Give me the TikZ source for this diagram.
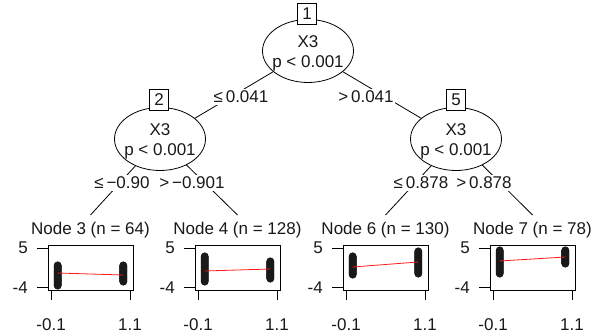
\documentclass[tikz,border=0pt]{standalone}
\usepackage{fontspec}
\setmainfont{Liberation Sans}
\usetikzlibrary{shapes.geometric,backgrounds}

% One terminal panel: #1 name, #2 left edge of plot box, #3 title,
% #4/#5 extent of the left point column, #6/#7 extent of the right column,
% #8/#9 end heights of the fitted line
\newcommand{\bivpanel}[9]{%
  \node[paneltitle] (#1title) at ({#2+42.5},230) {#3};
  \foreach \k in {0,...,32}{
    \draw[ptmark] ({#2+9.7},{#4+3.3+(#5-#4-6.6)*\k/32}) circle (3.3);
  }
  \foreach \k in {0,...,32}{
    \draw[ptmark] ({#2+75.3},{#6+3.3+(#7-#6-6.6)*\k/32}) circle (3.3);
  }
  \draw[fitline] ({#2+9.7},#8) -- ({#2+75.3},#9);
  \draw[axisline] (#2,245) rectangle ({#2+85},290);
  \draw[axisline] ({#2+3.1},290.4) -- ({#2+81.9},290.4);
  \draw[axisline] (#2,248) -- ({#2-11},248);
  \draw[axisline] (#2,287) -- ({#2-11},287);
  \node[anchor=east] (#1yhi) at ({#2-20},248) {5};
  \node[anchor=east] (#1ylo) at ({#2-20},288) {-4};
  \draw[axisline] ({#2+3.1},290) -- ({#2+3.1},300);
  \draw[axisline] ({#2+81.9},290) -- ({#2+81.9},300);
  \node (#1xlo) at ({#2+3.1},325) {-0.1};
  \node (#1xhi) at ({#2+81.9},325) {1.1};
}

\begin{document}
\begin{tikzpicture}[x=1pt,y=-1pt,
  every node/.style={font=\fontsize{17}{20}\selectfont, inner sep=0pt, text=black!90},
  splitnode/.style={ellipse, draw, fill=white, minimum width=91pt, minimum height=63pt, line width=0.8pt},
  idbox/.style={draw, fill=white, minimum width=19pt, minimum height=21pt, line width=0.8pt},
  edgeline/.style={line width=0.8pt},
  elab/.style={fill=white, inner sep=1.5pt},
  paneltitle/.style={fill=white, inner sep=1pt},
  axisline/.style={line width=0.8pt},
  ptmark/.style={line width=1.1pt, draw=black!90},
  fitline/.style={line width=0.8pt, draw=red!90}
]
\useasboundingbox (0,0) rectangle (596,336);

% inner split nodes
\node[splitnode] (n1) at (308,51) {};
\node (n1var) at (308,42) {X3};
\node (n1p) at (308,63) {p < 0.001};
\node[idbox] (n1id) at (307,14) {1};

\node[splitnode] (n2) at (160,139) {};
\node (n2var) at (160,130) {X3};
\node (n2p) at (160,151) {p < 0.001};
\node[idbox] (n2id) at (159,100) {2};

\node[splitnode] (n5) at (456,139) {};
\node (n5var) at (456,130) {X3};
\node (n5p) at (456,151) {p < 0.001};
\node[idbox] (n5id) at (456,100) {5};

% tops of the terminal panels
\coordinate (t3) at (90.5,215);
\coordinate (t4) at (237.5,215);
\coordinate (t6) at (385.5,215);
\coordinate (t7) at (532.5,215);

% edges, behind the nodes
\begin{scope}[on background layer]
  \draw[edgeline] (n1.center) -- (n2.center);
  \draw[edgeline] (n1.center) -- (n5.center);
  \draw[edgeline] (n2.center) -- (t3);
  \draw[edgeline] (n2.center) -- (t4);
  \draw[edgeline] (n5.center) -- (t6);
  \draw[edgeline] (n5.center) -- (t7);
\end{scope}

% edge labels
\node[elab] (l12) at (241,97) {≤\,0.041};
\node[elab] (l15) at (366,97) {>\,0.041};
\node[elab] (l23) at (122,183) {≤\,−0.90};
\node[elab] (l24) at (192,183) {>\,−0.901};
\node[elab] (l56) at (421,183) {≤\,0.878};
\node[elab] (l57) at (484,183) {>\,0.878};

% terminal panels
\bivpanel{p3}{48}{Node 3 (n = 64)}{262}{289}{262}{285}{273}{275}
\bivpanel{p4}{195}{Node 4 (n = 128)}{253}{285}{258}{282}{271}{269}
\bivpanel{p6}{343}{Node 6 (n = 130)}{253}{278}{248}{277}{267}{262}
\bivpanel{p7}{490}{Node 7 (n = 78)}{247}{277}{247}{267}{261}{257}
\end{tikzpicture}
\end{document}
